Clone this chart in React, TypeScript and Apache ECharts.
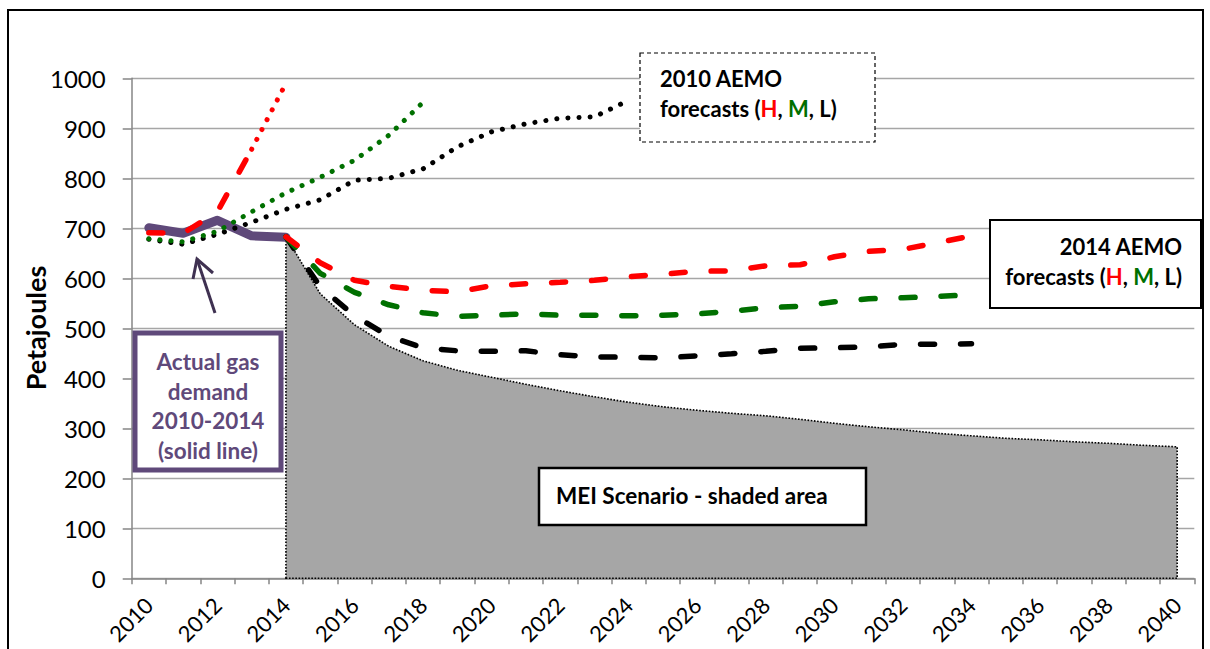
import React, { useEffect, useRef } from "react";
import * as echarts from "echarts";

// ---------- data ----------
const years = [
  "2010", "2011", "2012", "2013", "2014", "2015", "2016", "2017", "2018", "2019",
  "2020", "2021", "2022", "2023", "2024", "2025", "2026", "2027", "2028", "2029",
  "2030", "2031", "2032", "2033", "2034", "2035", "2036", "2037", "2038", "2039", "2040",
];

// Actual gas demand 2010-2014
const actualValues = [701, 690, 716, 685, 682];

// 2010 AEMO forecasts (from 2010)
const aemo2010High = [691, 690, 733, 858, 990]; // 2010-2014
const aemo2010Mid = [679, 673, 694, 733, 771, 802, 836, 886, 952]; // 2010-2018
const aemo2010Low = [678, 668, 688, 712, 738, 757, 796, 800, 819, 863, 893, 909, 920, 923, 956]; // 2010-2024

// 2014 AEMO forecasts (from 2014)
const aemo2014High = [683, 631, 596, 584, 576, 573, 585, 589, 592, 596, 603, 608, 614, 615, 625, 627, 643, 654, 658, 671, 685];
const aemo2014Mid = [683, 610, 572, 547, 531, 524, 526, 529, 526, 526, 525, 526, 529, 534, 541, 544, 553, 559, 561, 564, 567];
const aemo2014Low = [683, 583, 525, 484, 461, 455, 454, 455, 447, 443, 442, 441, 445, 449, 454, 460, 461, 463, 468, 468, 469];

// MEI scenario (2014-2040)
const meiValues = [683, 569, 507, 464, 435, 416, 402, 388, 375, 363, 352, 343, 336, 330, 325, 318, 310, 303, 297, 290, 285, 280, 277, 273, 270, 266, 263];

const yTicks = [0, 100, 200, 300, 400, 500, 600, 700, 800, 900, 1000];

// ---------- helpers ----------
const pad = (vals: number[], start: number): (number | null)[] =>
  years.map((_, i) => (i >= start && i - start < vals.length ? vals[i - start] : null));

const FONT = 'Lato, "Liberation Sans", Arial, sans-serif';
const RED = "#FF0000";
const GREEN = "#007000";
const BLACK = "#000000";
const PURPLE = "#5F497A";

const dotted = (color: string) => ({
  color,
  width: 5,
  type: [0.1, 11] as number[],
  cap: "round" as const,
});
const dashed = (color: string) => ({
  color,
  width: 5.5,
  type: [14, 26] as number[],
  cap: "round" as const,
});

const lineSeries = (name: string, data: (number | null)[], lineStyle: any) => ({
  name,
  type: "line",
  data,
  symbol: "none",
  connectNulls: false,
  lineStyle,
  z: 3,
});

const boxRich = (size: number) => ({
  b: { font: `bold ${size}px ${FONT}`, fill: "#000", lineHeight: 30 },
  r: { font: `bold ${size}px ${FONT}`, fill: RED, lineHeight: 30 },
  g: { font: `bold ${size}px ${FONT}`, fill: GREEN, lineHeight: 30 },
});

export default function App() {
  const ref = useRef<HTMLDivElement>(null);

  useEffect(() => {
    if (!ref.current) return;
    const chart = echarts.init(ref.current, undefined, { renderer: "svg" });
    const meiStart = years.indexOf("2014");

    const option: any = {
      animation: false,
      backgroundColor: "#ffffff",
      grid: { left: 131.7, right: 15.7, top: 78.3, bottom: 70.7, containLabel: false },
      xAxis: {
        type: "category",
        data: years,
        boundaryGap: true,
        axisLine: { lineStyle: { color: "#868686", width: 1.5 } },
        axisTick: { show: true, interval: 0, length: 6, lineStyle: { color: "#868686", width: 1.5 } },
        axisLabel: {
          interval: 1,
          rotate: 45,
          margin: 23,
          fontSize: 22,
          fontFamily: FONT,
          color: "#000",
        },
        splitLine: { show: false },
      },
      yAxis: {
        type: "value",
        min: yTicks[0],
        max: yTicks[yTicks.length - 1],
        interval: 100,
        axisLine: { show: true, lineStyle: { color: "#868686", width: 1.5 } },
        axisTick: { show: true, length: 9, lineStyle: { color: "#868686", width: 1.5 } },
        axisLabel: {
          margin: 26,
          fontSize: 24,
          fontFamily: FONT,
          color: "#000",
          formatter: (v: number) => String(v),
        },
        splitLine: { lineStyle: { color: "#A6A6A6", width: 1.3 } },
      },
      series: [
        {
          name: "MEI Scenario",
          type: "custom",
          data: [[meiStart, 0]],
          z: 1,
          renderItem: (_params: any, api: any) => {
            const pts = meiValues.map((v, i) => api.coord([meiStart + i, v]));
            const b0 = api.coord([meiStart, 0]);
            const b1 = api.coord([meiStart + meiValues.length - 1, 0]);
            return {
              type: "polygon",
              shape: { points: [b0, ...pts, b1] },
              style: { fill: "#A6A6A6", stroke: "#000", lineWidth: 1.6, lineDash: [1.6, 1.6] },
            };
          },
        },
        { ...lineSeries("Actual", pad(actualValues, 0), { color: PURPLE, width: 9, cap: "round", join: "round" }), z: 2 },
        lineSeries("2014 L", pad(aemo2014Low, meiStart), dashed(BLACK)),
        lineSeries("2014 M", pad(aemo2014Mid, meiStart), dashed(GREEN)),
        lineSeries("2014 H", pad(aemo2014High, meiStart), dashed(RED)),
        lineSeries("2010 L", pad(aemo2010Low, 0), dotted(BLACK)),
        lineSeries("2010 M", pad(aemo2010Mid, 0), dotted(GREEN)),
        lineSeries("2010 H a", pad(aemo2010High.slice(0, 4), 0), dashed(RED)),
        lineSeries("2010 H b", pad(aemo2010High.slice(3), 3), dotted(RED)),
      ],
      graphic: [
        {
          type: "rect",
          shape: { x: 8, y: 10, width: 1195, height: 700 },
          style: { fill: "none", stroke: "#000", lineWidth: 2 },
          z: 0,
        },
        {
          type: "text",
          x: 35,
          y: 328,
          rotation: Math.PI / 2,
          style: {
            text: "Petajoules",
            font: `bold 27px ${FONT}`,
            fill: "#000",
            align: "center",
            verticalAlign: "middle",
          },
        },
        // 2010 AEMO box
        {
          type: "rect",
          shape: { x: 640, y: 53, width: 235, height: 89 },
          style: { fill: "#fff", stroke: "#000", lineWidth: 1.2, lineDash: [4, 3] },
          z: 10,
        },
        {
          type: "text",
          x: 660,
          y: 63,
          z: 11,
          style: {
            text: "{b|2010 AEMO}\n{b|forecasts (}{r|H}{b|, }{g|M}{b|, L)}",
            align: "left",
            verticalAlign: "top",
            lineHeight: 30,
            rich: boxRich(22),
          },
        },
        // 2014 AEMO box
        {
          type: "rect",
          shape: { x: 990, y: 220, width: 211, height: 88 },
          style: { fill: "#fff", stroke: "#000", lineWidth: 2 },
          z: 10,
        },
        {
          type: "text",
          x: 1182,
          y: 231,
          z: 11,
          style: {
            text: "{b|2014 AEMO}\n{b|forecasts (}{r|H}{b|, }{g|M}{b|, L)}",
            align: "right",
            verticalAlign: "top",
            lineHeight: 30,
            rich: boxRich(22),
          },
        },
        // Actual gas demand box
        {
          type: "rect",
          shape: { x: 135, y: 333, width: 146, height: 137 },
          style: { fill: "#fff", stroke: PURPLE, lineWidth: 5 },
          z: 10,
        },
        {
          type: "text",
          x: 208,
          y: 347,
          z: 11,
          style: {
            text: "Actual gas\ndemand\n2010-2014\n(solid line)",
            font: `bold 22.5px ${FONT}`,
            fill: PURPLE,
            align: "center",
            verticalAlign: "top",
            lineHeight: 29.5,
          },
        },
        // MEI box
        {
          type: "rect",
          shape: { x: 539, y: 468, width: 327, height: 57 },
          style: { fill: "#fff", stroke: "#000", lineWidth: 2.5 },
          z: 10,
        },
        {
          type: "text",
          x: 556,
          y: 495,
          z: 11,
          style: {
            text: "MEI Scenario - shaded area",
            font: `bold 22.5px ${FONT}`,
            fill: "#000",
            align: "left",
            verticalAlign: "middle",
          },
        },
        // arrow
        {
          type: "polyline",
          shape: { points: [[215, 313], [197, 259]] },
          style: { stroke: "#3F3151", lineWidth: 3, fill: "none" },
          z: 10,
        },
        {
          type: "polyline",
          shape: { points: [[193, 279], [197, 259], [213, 273]] },
          style: { stroke: "#3F3151", lineWidth: 3, fill: "none", lineJoin: "miter" },
          z: 10,
        },
      ],
    };

    chart.setOption(option);
    return () => chart.dispose();
  }, []);

  return (
    <div
      ref={ref}
      style={{ position: "absolute", left: 0, top: 0, width: 1210, height: 649, background: "#fff" }}
    />
  );
}
